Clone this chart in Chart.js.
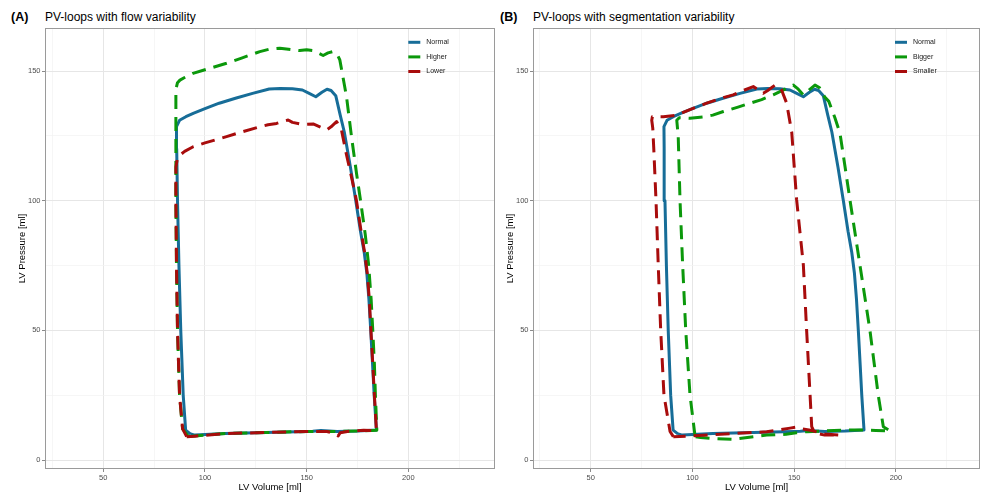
<!DOCTYPE html>
<html>
<head>
<meta charset="utf-8">
<script src="https://cdn.jsdelivr.net/npm/chart.js@4.4.1/dist/chart.umd.min.js"></script>
<style>
  body { margin: 0; background: #fff; width: 981px; height: 494px; position: relative; overflow: hidden;
         font-family: "Liberation Sans", Arial, sans-serif; }
  canvas { position: absolute; top: 0; }
  #chartA { left: 0; }
  #chartB { left: 497px; }
  .tag { position: absolute; top: 10px; font-weight: bold; font-size: 12.5px; line-height: 14px; color: #000; }
  .ttl { position: absolute; top: 10px; font-size: 12px; line-height: 14px; color: #000; }
</style>
</head>
<body>
<div class="tag" style="left:11px">(A)</div>
<div class="ttl" style="left:45px">PV-loops with flow variability</div>
<div class="tag" style="left:500px">(B)</div>
<div class="ttl" style="left:533px">PV-loops with segmentation variability</div>
<canvas id="chartA" width="497" height="494"></canvas>
<canvas id="chartB" width="484" height="494"></canvas>
<script>
// --- data (volume in ml, pressure) ---
const volTicks = [25, 50, 75, 100, 125, 150, 175, 200, 225];
const volLabeled = [50, 100, 150, 200];
const presTicks = [0, 25, 50, 75, 100, 125, 150];
const presLabeled = [0, 50, 100, 150];

// Normal (same loop in both panels)
const normalVol = [93, 90.5, 89.3, 88.1, 87.2, 86.5, 86.1, 86, 87.5, 90.6, 94.5, 100, 107, 115, 123.4, 131.6, 137, 143,
  147.9, 151, 154.5, 157.5, 160, 162, 164.3, 166.5, 168.5, 171.5, 174.1, 176.5, 178.3, 179.6, 180.6, 181.5, 182.4,
  183.2, 184.3, 175, 165, 157, 153, 150, 140, 125, 110, 100, 95, 93];
const normalPres = [10, 11.5, 25, 50, 75, 100, 120, 128.6, 131, 132.4, 133.8, 135.5, 137.6, 139.5, 141.4, 143.1, 143.3, 143.2,
  142.7, 141.5, 140.1, 141.8, 143, 142.5, 140.5, 133, 126.5, 113, 100.3, 88, 80, 72, 62, 50.1, 37,
  25, 11.6, 11.2, 11, 11.4, 11.1, 11, 10.8, 10.5, 10.2, 9.8, 9.6, 10];

// Higher flow
const higherVol = [92, 89, 87.5, 86.5, 86, 85.7, 85.7, 85.7, 86.5, 87.7, 90, 94.1, 100, 110.6, 118, 127, 132, 136.8,
  140, 143, 146.6, 150, 153.2, 156, 158.1, 160.5, 163, 165, 166.3, 168, 169.6, 172, 174.5, 176.5, 178.8, 180.5, 181.7,
  182.5, 183.3, 183.8, 184.5, 175, 165, 150, 130, 110, 95, 92];
const higherPres = [9, 12, 25, 50, 75, 100, 125, 143, 145.5, 146.5, 147.5, 149.1, 150.5, 153, 155, 157.5, 158.5, 158.8,
  158.5, 158.2, 157.9, 158.2, 157.9, 156.8, 156, 157, 157.5, 156.5, 154.3, 147, 140.1, 125, 110.6, 100, 87, 75, 62,
  50, 37, 25, 11.5, 11.2, 11, 11, 10.6, 10.2, 9.3, 9];

// Lower flow
const lowerVol = [91, 89, 87.5, 86.5, 86, 85.7, 85.7, 86.5, 87.7, 90, 94.2, 100, 110.6, 118, 127, 131, 135.2, 138,
  140.9, 143, 146.7, 150, 153.2, 156.5, 159.8, 162, 164.7, 167.1, 169.5, 172, 174.5, 176.8, 178.5, 179.8, 180.8, 181.6,
  182.5, 183.3, 184.3, 178, 170, 166.5, 165.5, 164, 160, 150, 130, 110, 95, 91];
const lowerPres = [9, 12, 25, 50, 75, 100, 113, 116.5, 117.6, 119, 120.8, 122.3, 124.7, 126.5, 128.5, 129.3, 129.8, 130.5,
  131.1, 130.2, 129.6, 129.5, 129.6, 128.5, 127.3, 128.5, 130.5, 127.3, 118, 109.3, 100, 88, 80, 72, 62, 50,
  37, 25, 11.3, 11.5, 11, 10.5, 9.3, 10.2, 11, 11, 10.6, 10.2, 9.2, 9];

// Bigger segmentation
const biggerVol = [101.3, 98.8, 96.7, 95.2, 93.9, 93, 92.3, 93.5, 98.8, 105, 110, 115.2, 122, 128.3, 134, 139.7, 145,
  149.6, 152, 154.5, 157, 160.2, 162.5, 165, 167, 170, 172.5, 175, 177.4, 182.3, 187.2, 191.3, 193.8, 197.3,
  190, 182, 174, 165, 156, 151, 146, 136.5, 125, 120, 110, 104, 101.3];
const biggerPres = [9, 25, 50, 75, 100, 125, 131, 132, 131.8, 132.3, 133, 134.4, 136, 137.6, 139, 140.8, 142.8,
  144.6, 143, 140.8, 142.5, 144.6, 143.5, 140, 138.3, 132, 126, 113, 100.3, 75.2, 50.1, 25, 12.8, 11.2,
  11.4, 11.6, 11.5, 11.2, 10.9, 10.5, 9.9, 9.6, 8.5, 8, 8.3, 8.7, 9];

// Smaller segmentation
const smallerVol = [90.6, 89, 86, 84.4, 83.2, 82.1, 81, 80.5, 80, 80.3, 85.7, 92.3, 100, 107, 114, 120, 125, 129.9,
  132, 134.8, 137, 140.6, 142.5, 143.8, 146.3, 148.8, 151.2, 154.5, 156.1, 157.8, 158.6, 160, 165, 172.5,
  165, 158, 154, 151.2, 148, 136.5, 120, 100, 90.6];
const smallerPres = [9, 11, 25, 50, 75, 100, 120, 128, 131, 132.4, 132.4, 133, 135.5, 137.6, 139.5, 140.8, 142.5, 144,
  143, 141.4, 142.5, 144.6, 144, 142.7, 137.6, 126.3, 100.3, 75.2, 50.1, 25, 12.9, 10.5, 9.6, 9.6,
  10, 11.5, 12, 12.7, 12.3, 10.9, 10.2, 9.3, 9];

const FONT = '"Liberation Sans", Arial, sans-serif';
const BLUE = '#176d98', GREEN = '#0b980b', RED = '#a80c0c';

function pts(vs, ps) { return vs.map((v, i) => ({ x: v, y: ps[i] })); }

function loop(label, vs, ps, color, dashed, order) {
  return {
    label: label,
    data: pts(vs, ps),
    borderColor: color,
    backgroundColor: color,
    borderWidth: 3,
    borderDash: dashed ? [14, 8] : [],
    borderJoinStyle: 'round',
    pointRadius: 0,
    showLine: true,
    tension: 0,
    fill: false,
    order: order
  };
}

// border round the panel + legend in the top right corner
const panelDeco = {
  id: 'panelDeco',
  afterDraw(chart, args, opts) {
    const { ctx, chartArea: a } = chart;
    ctx.save();
    ctx.strokeStyle = '#9a9a9a';
    ctx.lineWidth = 1;
    ctx.setLineDash([]);
    ctx.strokeRect(a.left + 0.5, a.top + 0.5, a.right - a.left - 1, a.bottom - a.top - 1);
    ctx.font = '7px ' + FONT;
    ctx.textBaseline = 'middle';
    chart.data.datasets.forEach((ds, i) => {
      const y = opts.y + i * opts.dy;
      ctx.strokeStyle = ds.borderColor;
      ctx.lineWidth = 3;
      ctx.beginPath();
      ctx.moveTo(opts.x, y);
      ctx.lineTo(opts.x + 12, y);
      ctx.stroke();
      ctx.fillStyle = '#1a1a1a';
      ctx.fillText(ds.label, opts.x + 18, y);
    });
    ctx.restore();
  }
};

function makePanel(id, datasets, cfg) {
  const minor = (v, list) => !list.includes(v);
  new Chart(document.getElementById(id), {
    type: 'scatter',
    data: { datasets: datasets },
    options: {
      responsive: false,
      animation: false,
      layout: { padding: { top: 28, right: cfg.padRight, left: 0, bottom: 0 } },
      plugins: {
        legend: { display: false },
        tooltip: { enabled: false },
        panelDeco: { x: cfg.legendX, y: 42.3, dy: 14.6 }
      },
      scales: {
        x: {
          type: 'linear',
          min: cfg.xMin, max: cfg.xMax,
          afterBuildTicks: s => { s.ticks = volTicks.map(v => ({ value: v })); },
          afterFit: s => { s.height = 25; },
          border: { display: false },
          grid: {
            color: c => minor(c.tick.value, volLabeled) ? '#f2f2f2' : '#e6e6e6',
            lineWidth: c => minor(c.tick.value, volLabeled) ? 0.7 : 1,
            tickColor: c => minor(c.tick.value, volLabeled) ? 'rgba(0,0,0,0)' : '#8a8a8a',
            tickLength: 3
          },
          ticks: {
            autoSkip: false, maxRotation: 0, padding: 1.5,
            color: '#4d4d4d', font: { size: 7.5, family: FONT },
            callback: v => volLabeled.includes(v) ? String(v) : ''
          },
          title: { display: true, text: 'LV Volume [ml]', color: '#000',
                   font: { size: 9.5, family: FONT }, padding: { top: 0, bottom: 0.5 } }
        },
        y: {
          type: 'linear',
          min: -3.47, max: 166.6,
          afterBuildTicks: s => { s.ticks = presTicks.map(v => ({ value: v })); },
          afterFit: s => { s.width = cfg.yWidth; },
          border: { display: false },
          grid: {
            color: c => minor(c.tick.value, presLabeled) ? '#f2f2f2' : '#e6e6e6',
            lineWidth: c => minor(c.tick.value, presLabeled) ? 0.7 : 1,
            tickColor: c => minor(c.tick.value, presLabeled) ? 'rgba(0,0,0,0)' : '#8a8a8a',
            tickLength: 3
          },
          ticks: {
            autoSkip: false, padding: 1.5,
            color: '#4d4d4d', font: { size: 7.5, family: FONT },
            callback: v => presLabeled.includes(v) ? String(v) : ''
          },
          title: { display: true, text: 'LV Pressure [ml]', color: '#000',
                   font: { size: 9.5, family: FONT }, padding: { top: cfg.yTitlePad, bottom: 0 } }
        }
      }
    },
    plugins: [panelDeco]
  });
}

// --- (A) flow variability ---
makePanel('chartA', [
  loop('Normal', normalVol, normalPres, BLUE, false, 3),
  loop('Higher', higherVol, higherPres, GREEN, true, 2),
  loop('Lower', lowerVol, lowerPres, RED, true, 1)
], { xMin: 21.35, xMax: 242.6, padRight: 2, yWidth: 45, yTitlePad: 16.8, legendX: 408.3 });

// --- (B) segmentation variability ---
makePanel('chartB', [
  loop('Normal', normalVol, normalPres, BLUE, false, 3),
  loop('Bigger', biggerVol, biggerPres, GREEN, true, 2),
  loop('Smaller', smallerVol, smallerPres, RED, true, 1)
], { xMin: 21.65, xMax: 241.3, padRight: 1, yWidth: 36, yTitlePad: 7.3, legendX: 398 });
</script>
</body>
</html>
